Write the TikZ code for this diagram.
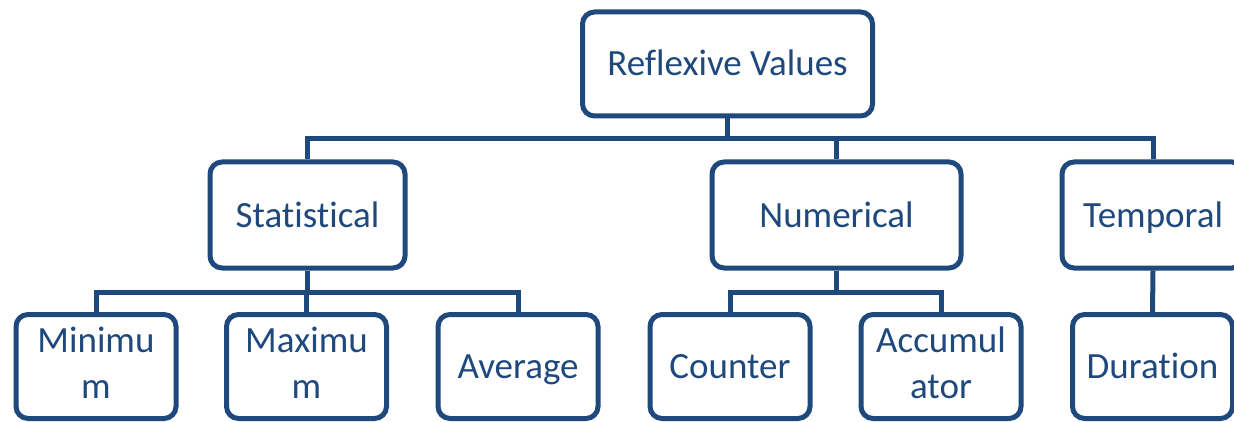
\documentclass[tikz,border=0pt]{standalone}
\usepackage{fontspec}
\setmainfont{Carlito}[Ligatures=NoCommon]
\definecolor{navy}{HTML}{1F497D}
% strut that keeps the baseline a little below the box centre
\newcommand\boxstrut{\rule[-8pt]{0pt}{40pt}}
\tikzset{
  box/.style={draw=navy, line width=5pt, rounded corners=12pt, fill=white,
    text=navy, align=center, inner sep=0pt,
    font=\fontsize{37}{42}\selectfont,
    execute at begin node=\boxstrut, execute at end node=\boxstrut},
  leaf/.style={box, minimum width=160pt, minimum height=104pt},
  mid/.style={box, minimum height=106pt},
  link/.style={draw=navy, line width=5pt}
}
\begin{document}
\begin{tikzpicture}[x=1pt, y=-1pt]
  \clip (0,0) rectangle (1234,422);
  \fill[white] (0,0) rectangle (1234,422);

  % top level
  \node[box, minimum width=290pt, minimum height=104pt] (root) at (727.5,64) {Reflexive Values};

  % categories
  \node[mid, minimum width=195pt] (stat) at (307.5,215) {Statistical};
  \node[mid, minimum width=249pt] (num) at (836.5,215) {Numerical};
  \node[mid, minimum width=182pt] (temp) at (1153,215) {Temporal};

  % leaves
  \node[leaf] (min) at (96,366.5) {Minimu\\[4pt]m};
  \node[leaf] (max) at (306.5,366.5) {Maximu\\[4pt]m};
  \node[leaf] (avg) at (518,366.5) {Average};
  \node[leaf] (cnt) at (730,366.5) {Counter};
  \node[leaf] (acc) at (941,366.5) {Accumul\\[4pt]ator};
  \node[leaf] (dur) at (1152.5,366.5) {Duration};

  % junctions
  \coordinate (j1) at (727.5,139);
  \coordinate (j2) at (307.5,292);
  \coordinate (j3) at (836.5,292);

  % connectors
  \draw[link] (root.south) -- (j1);
  \draw[link] (j1) -| (stat.north);
  \draw[link] (j1) -| (num.north);
  \draw[link] (j1) -| (temp.north);

  \draw[link] (stat.south) -- (j2);
  \draw[link] (j2) -| (min.north);
  \draw[link] (j2) -| (max.north);
  \draw[link] (j2) -| (avg.north);

  \draw[link] (num.south) -- (j3);
  \draw[link] (j3) -| (cnt.north);
  \draw[link] (j3) -| (acc.north);

  \draw[link] (temp.south) -- (dur.north);
\end{tikzpicture}
\end{document}
